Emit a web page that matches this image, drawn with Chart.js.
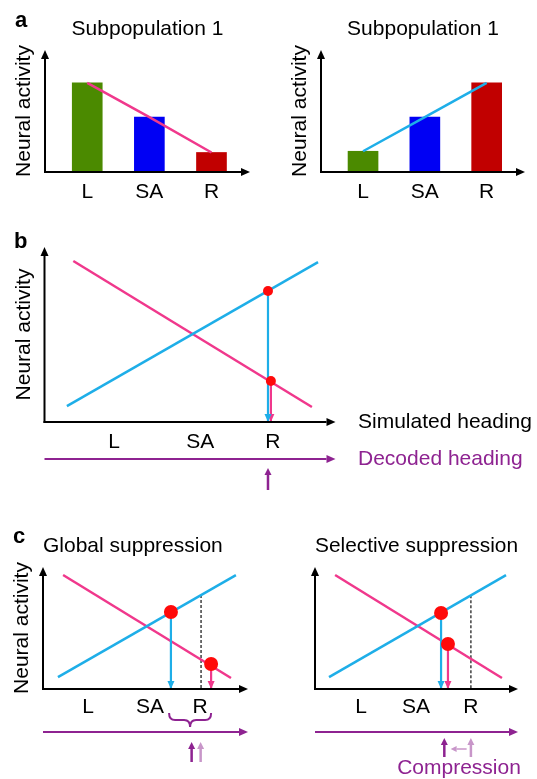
<!DOCTYPE html>
<html>
<head>
<meta charset="utf-8">
<script src="https://cdn.jsdelivr.net/npm/chart.js@4.4.0/dist/chart.umd.min.js"></script>
<style>
html, body { margin: 0; padding: 0; background: #ffffff; }
#wrap { position: relative; width: 537px; height: 779px; overflow: hidden; background: #fff; }
#wrap canvas { position: absolute; left: 0; top: 0; }
</style>
</head>
<body>
<div id="wrap">
  <canvas id="aLeft" width="537" height="779"></canvas>
  <canvas id="aRight" width="537" height="779"></canvas>
  <canvas id="bPanel" width="537" height="779"></canvas>
  <canvas id="cGlobal" width="537" height="779"></canvas>
  <canvas id="cSelective" width="537" height="779"></canvas>
</div>
<script>
// ================= DATA =================
const headingLabels = ['L', 'SA', 'R'];

// panel a : bar heights (arbitrary activity units, axis 0..10)
const aCategoryPos = [1, 2, 3];
const aLeftActivity = [7.3, 4.5, 1.6];
const aRightActivity = [1.7, 4.5, 7.3];
const aTitles = ['Subpopulation 1', 'Subpopulation 1'];

// panel b : axis units 0..100 (heading) x 0..100 (activity)
const bTickPos = [23.9, 53.5, 78.5];
const bBlueX = [7.7, 94.0], bBlueY = [9.1, 91.4];
const bPinkX = [9.9, 91.9], bPinkY = [92.0, 8.6];
const bDotX = [76.8, 77.8], bDotY = [74.9, 23.4];
const bDecodedX = [76.8];

// panel c, global suppression
const cGlobalTickPos = [22.0, 52.2, 76.6];
const cGlobalBlueX = [7.3, 94.1], cGlobalBlueY = [9.8, 93.4];
const cGlobalPinkX = [9.8, 91.7], cGlobalPinkY = [93.4, 9.0];
const cGlobalDotX = [62.4, 82.0], cGlobalDotY = [63.1, 20.5];
const cGlobalRefX = [77.1], cGlobalRefY = [77.0];
const cGlobalDecodedX = [72.5, 76.9];
const cGlobalBraceX = [61.5, 82.0];

// panel c, selective suppression
const cSelTickPos = [22.7, 49.8, 76.8];
const cSelBlueX = [6.9, 94.1], cSelBlueY = [9.8, 93.4];
const cSelPinkX = [9.9, 92.1], cSelPinkY = [93.4, 9.0];
const cSelDotX = [62.1, 65.5], cSelDotY = [62.3, 36.9];
const cSelRefX = [76.8], cSelRefY = [76.8];
const cSelDecodedX = [63.7, 76.8];
const cSelShiftX = [74.7, 66.8];

// ================= STYLE =================
const W = 537, H = 779;
const FONT = "'Liberation Sans', Arial, Helvetica, sans-serif";
const FS = 21, LH = FS * 1.2;
const BAR_COLORS = ['#4b8a00', '#0000f4', '#c10000'];
const BLUE = '#1eaee8';
const PINK = '#f0388c';
const RED = '#ff0a0a';
const PURPLE = '#8e2391';
const LIGHT_PURPLE = '#c896c9';

Chart.defaults.font.family = FONT;
Chart.defaults.color = '#000';

const zip = (xs, ys) => xs.map((x, i) => ({ x: x, y: ys[i] }));

// ================= drawing helpers =================
function arrowLine(ctx, x1, y1, x2, y2, color, lw, hl, hw) {
  const ang = Math.atan2(y2 - y1, x2 - x1);
  const bx = x2 - hl * Math.cos(ang), by = y2 - hl * Math.sin(ang);
  ctx.save();
  ctx.strokeStyle = color; ctx.fillStyle = color; ctx.lineWidth = lw;
  ctx.beginPath(); ctx.moveTo(x1, y1); ctx.lineTo(bx, by); ctx.stroke();
  ctx.beginPath();
  ctx.moveTo(x2, y2);
  ctx.lineTo(bx + hw * Math.sin(ang), by - hw * Math.cos(ang));
  ctx.lineTo(bx - hw * Math.sin(ang), by + hw * Math.cos(ang));
  ctx.closePath(); ctx.fill();
  ctx.restore();
}
function arrowHead(ctx, x1, y1, x2, y2, color, hl, hw) {
  const ang = Math.atan2(y2 - y1, x2 - x1);
  const bx = x2 - hl * Math.cos(ang), by = y2 - hl * Math.sin(ang);
  ctx.save(); ctx.fillStyle = color;
  ctx.beginPath();
  ctx.moveTo(x2, y2);
  ctx.lineTo(bx + hw * Math.sin(ang), by - hw * Math.cos(ang));
  ctx.lineTo(bx - hw * Math.sin(ang), by + hw * Math.cos(ang));
  ctx.closePath(); ctx.fill(); ctx.restore();
}
function text(ctx, str, x, y, color, size, align, weight) {
  ctx.save();
  ctx.fillStyle = color;
  ctx.font = (weight || 'normal') + ' ' + size + 'px ' + FONT;
  ctx.textAlign = align || 'left';
  ctx.textBaseline = 'middle';
  ctx.fillText(str, x, y);
  ctx.restore();
}
function brace(ctx, x1, x2, yTop, yMid, yTip, color) {
  const xm = (x1 + x2) / 2, r = 6;
  ctx.save();
  ctx.strokeStyle = color; ctx.lineWidth = 2;
  ctx.beginPath();
  ctx.moveTo(x1, yTop);
  ctx.quadraticCurveTo(x1, yMid, x1 + r, yMid);
  ctx.lineTo(xm - r, yMid);
  ctx.quadraticCurveTo(xm, yMid, xm, yTip);
  ctx.quadraticCurveTo(xm, yMid, xm + r, yMid);
  ctx.lineTo(x2 - r, yMid);
  ctx.quadraticCurveTo(x2, yMid, x2, yTop);
  ctx.stroke();
  ctx.restore();
}

function makeOverlay(id, letter, extras) {
  return {
    id: id,
    afterDatasetsDraw(chart) {
      const ctx = chart.ctx, a = chart.chartArea;
      chart.data.datasets.forEach((ds, i) => {
        if (!ds.dropArrow) return;
        const m = chart.getDatasetMeta(i).data;
        arrowHead(ctx, m[0].x, m[0].y, m[1].x, m[1].y, ds.borderColor, 8, 3.5);
      });
      arrowLine(ctx, a.left - 1, a.bottom, a.right, a.bottom, '#000', 2, 9, 4);
      arrowLine(ctx, a.left, a.bottom + 1, a.left, a.top, '#000', 2, 9, 4);
    },
    afterDraw(chart) {
      const ctx = chart.ctx;
      if (letter) text(ctx, letter.t, letter.x, letter.y, '#000', 22, 'left', 'bold');
      if (extras) extras(chart, ctx);
    }
  };
}

// ================= config builders =================
function padFor(box, o) {
  const yW = o.yTitle ? LH + 8 : 0;
  const tH = o.title ? LH + 8 : 0;
  const xH = LH + 2 * o.tickPad;
  return { left: box.left - yW, top: box.top - tH, right: W - box.right, bottom: H - box.bottom - xH };
}
function xScale(min, max, tickPos, tickPad) {
  return {
    type: 'linear', min: min, max: max, offset: false,
    grid: { display: false, drawTicks: false }, border: { display: false },
    afterBuildTicks: (s) => { s.ticks = tickPos.map(v => ({ value: v })); },
    ticks: {
      padding: tickPad, autoSkip: false, maxRotation: 0, color: '#000',
      font: { size: FS }, callback: (v, i) => headingLabels[i]
    }
  };
}
function yScale(max, withTitle) {
  return {
    type: 'linear', min: 0, max: max, display: withTitle,
    grid: { display: false, drawTicks: false }, border: { display: false },
    ticks: { display: false },
    title: { display: withTitle, text: 'Neural activity', color: '#000',
             font: { size: FS }, padding: { top: 0, bottom: 8 } }
  };
}
function titleOpt(str, align) {
  return { display: !!str, text: str, align: align, fullSize: false, color: '#000',
           font: { size: FS, weight: 'normal' }, padding: { top: 0, bottom: 8 } };
}
function baseOptions(box, o) {
  return {
    responsive: false, animation: false, events: [],
    layout: { padding: padFor(box, o) },
    plugins: { legend: { display: false }, tooltip: { enabled: false },
               title: titleOpt(o.title, o.titleAlign) },
    scales: { x: xScale(o.xMin, o.xMax, o.tickPos, o.tickPad), y: yScale(o.yMax, o.yTitle) }
  };
}

// ================= panel a =================
function barPanel(id, box, values, title, lineColor, letter) {
  new Chart(document.getElementById(id), {
    type: 'bar',
    data: {
      datasets: [
        { type: 'line', data: zip(aCategoryPos, values), borderColor: lineColor,
          borderWidth: 2.5, pointRadius: 0, tension: 0, fill: false },
        { type: 'bar', data: zip(aCategoryPos, values), backgroundColor: BAR_COLORS,
          barThickness: 30, borderWidth: 0 }
      ]
    },
    options: baseOptions(box, { yTitle: true, title: title, titleAlign: 'center', tickPad: 8,
                                xMin: 0.32, xMax: 3.62, yMax: 10, tickPos: aCategoryPos }),
    plugins: [makeOverlay(id + 'Ov', letter, null)]
  });
}
barPanel('aLeft', { left: 45, top: 50, right: 250, bottom: 172 }, aLeftActivity, aTitles[0], PINK, { t: 'a', x: 15, y: 21 });
barPanel('aRight', { left: 321, top: 50, right: 525, bottom: 172 }, aRightActivity, aTitles[1], BLUE, null);

// ================= line panels =================
function tuningSets(blue, pink, dots, dotR, refLine) {
  const sets = [
    { data: dots, showLine: false, pointRadius: dotR, pointBackgroundColor: RED, pointBorderWidth: 0 },
    { data: [dots[1], { x: dots[1].x, y: 0 }], borderColor: PINK, borderWidth: 2.2, pointRadius: 0, dropArrow: true },
    { data: [dots[0], { x: dots[0].x, y: 0 }], borderColor: BLUE, borderWidth: 2.2, pointRadius: 0, dropArrow: true },
    { data: blue, borderColor: BLUE, borderWidth: 2.5, pointRadius: 0 },
    { data: pink, borderColor: PINK, borderWidth: 2.5, pointRadius: 0 }
  ];
  if (refLine) sets.push({ data: [refLine, { x: refLine.x, y: 0 }], borderColor: '#222',
                           borderWidth: 1.3, borderDash: [3, 2], pointRadius: 0 });
  return sets;
}

// panel b
new Chart(document.getElementById('bPanel'), {
  type: 'line',
  data: { datasets: tuningSets(zip(bBlueX, bBlueY), zip(bPinkX, bPinkY), zip(bDotX, bDotY), 5, null) },
  options: baseOptions({ left: 44.5, top: 247, right: 335.5, bottom: 422 },
    { yTitle: true, title: '', tickPad: 8, xMin: 0, xMax: 100, yMax: 100, tickPos: bTickPos }),
  plugins: [makeOverlay('bOv', { t: 'b', x: 14, y: 242 }, (chart, ctx) => {
    const a = chart.chartArea, xs = chart.scales.x;
    text(ctx, 'Simulated heading', 358, a.bottom, '#000', FS, 'left');
    arrowLine(ctx, a.left, a.bottom + 37, a.right, a.bottom + 37, PURPLE, 2, 9, 4);
    text(ctx, 'Decoded heading', 358, a.bottom + 37, PURPLE, FS, 'left');
    const dx = xs.getPixelForValue(bDecodedX[0]);
    arrowLine(ctx, dx, a.bottom + 68, dx, a.bottom + 46, PURPLE, 2.5, 7, 3.5);
  })]
});

// panel c, global
new Chart(document.getElementById('cGlobal'), {
  type: 'line',
  data: { datasets: tuningSets(zip(cGlobalBlueX, cGlobalBlueY), zip(cGlobalPinkX, cGlobalPinkY),
                               zip(cGlobalDotX, cGlobalDotY), 7, { x: cGlobalRefX[0], y: cGlobalRefY[0] }) },
  options: baseOptions({ left: 43, top: 567, right: 248, bottom: 689 },
    { yTitle: true, title: 'Global suppression', titleAlign: 'start', tickPad: 6,
      xMin: 0, xMax: 100, yMax: 100, tickPos: cGlobalTickPos }),
  plugins: [makeOverlay('cgOv', { t: 'c', x: 13, y: 537 }, (chart, ctx) => {
    const a = chart.chartArea, xs = chart.scales.x;
    brace(ctx, xs.getPixelForValue(cGlobalBraceX[0]), xs.getPixelForValue(cGlobalBraceX[1]), 713, 720, 727, PURPLE);
    arrowLine(ctx, a.left, 732, a.right, 732, PURPLE, 2, 9, 4);
    const d0 = xs.getPixelForValue(cGlobalDecodedX[0]), d1 = xs.getPixelForValue(cGlobalDecodedX[1]);
    arrowLine(ctx, d1, 762, d1, 742, LIGHT_PURPLE, 2.5, 7, 3.5);
    arrowLine(ctx, d0, 762, d0, 742, PURPLE, 2.5, 7, 3.5);
  })]
});

// panel c, selective
new Chart(document.getElementById('cSelective'), {
  type: 'line',
  data: { datasets: tuningSets(zip(cSelBlueX, cSelBlueY), zip(cSelPinkX, cSelPinkY),
                               zip(cSelDotX, cSelDotY), 7, { x: cSelRefX[0], y: cSelRefY[0] }) },
  options: baseOptions({ left: 315, top: 567, right: 518, bottom: 689 },
    { yTitle: false, title: 'Selective suppression', titleAlign: 'start', tickPad: 6,
      xMin: 0, xMax: 100, yMax: 100, tickPos: cSelTickPos }),
  plugins: [makeOverlay('csOv', null, (chart, ctx) => {
    const a = chart.chartArea, xs = chart.scales.x;
    arrowLine(ctx, a.left, 732, a.right, 732, PURPLE, 2, 9, 4);
    const d0 = xs.getPixelForValue(cSelDecodedX[0]), d1 = xs.getPixelForValue(cSelDecodedX[1]);
    arrowLine(ctx, d1, 757, d1, 738, LIGHT_PURPLE, 2.5, 7, 3.5);
    arrowLine(ctx, d0, 757, d0, 738, PURPLE, 2.5, 7, 3.5);
    arrowLine(ctx, xs.getPixelForValue(cSelShiftX[0]), 749, xs.getPixelForValue(cSelShiftX[1]), 749,
              LIGHT_PURPLE, 1.5, 6, 3);
    text(ctx, 'Compression', 459, 768, PURPLE, FS, 'center');
  })]
});
</script>
</body>
</html>
